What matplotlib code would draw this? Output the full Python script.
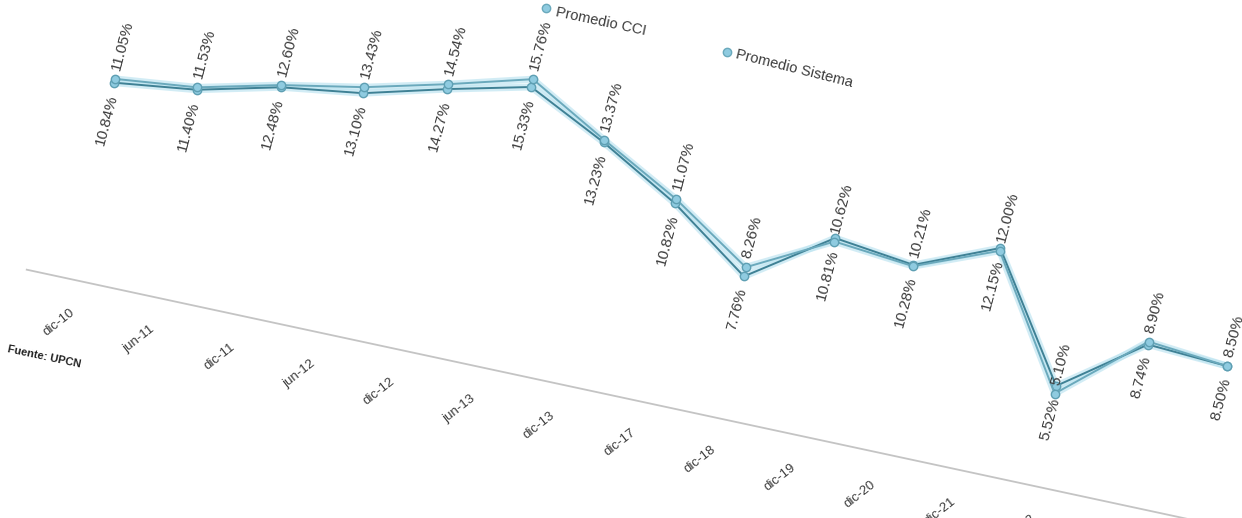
import matplotlib.pyplot as plt
from matplotlib.transforms import Affine2D

plt.rcParams['font.family'] = ['Liberation Sans', 'DejaVu Sans']

# Datos (las dos ultimas fechas quedan fuera de la foto)
periodos = ['dic-10', 'jun-11', 'dic-11', 'jun-12', 'dic-12', 'jun-13', 'dic-13',
            'dic-17', 'dic-18', 'dic-19', 'dic-20', 'dic-21', 'dic-22']
promedio_cci = [11.05, 11.53, 12.60, 13.43, 14.54, 15.76, 13.37, 11.07, 8.26,
                10.62, 10.21, 12.00, 5.10, 8.90, 8.50]
promedio_sistema = [10.84, 11.40, 12.48, 13.10, 14.27, 15.33, 13.23, 10.82, 7.76,
                    10.81, 10.28, 12.15, 5.52, 8.74, 8.50]
idx = list(range(len(promedio_cci)))

fig = plt.figure(figsize=(12.42, 5.18), dpi=100)
ax = fig.add_axes([0, 0, 1, 1])
ax.set_xlim(0, 1242)
ax.set_ylim(518, 0)
ax.axis('off')

# la foto esta tomada en perspectiva: el grafico se ve inclinado
skew = Affine2D.from_values(80.1, 17.2, 3.65, -18.2, 74.8, 280.0)
T = skew + ax.transData

def to_px(i, v):
    return skew.transform((i, v))

# eje x
ax.plot([-0.6, len(idx)], [0, 0], color='#c4c4c4', lw=1.3, transform=T)

col_txt = '#3c3c3c'
for i, lab in enumerate(periodos):
    x, y = to_px(i, -1.45)
    ax.text(x, y, lab, rotation=38, rotation_mode='anchor', ha='right', va='top',
            fontsize=9.5, color=col_txt)

# series con halo celeste
colores = [(promedio_sistema, '#3f8195'), (promedio_cci, '#6aa9bc')]
for vals, col in colores:
    ax.plot(idx, vals, color='#bfe5f1', lw=5, alpha=0.7, transform=T, solid_capstyle='round')
for vals, col in colores:
    ax.plot(idx, vals, color=col, lw=1.4, transform=T, marker='o', markersize=6,
            markerfacecolor='#8fcbe0', markeredgecolor='#5e9fb3', markeredgewidth=1)

# etiquetas de datos
for i, v in enumerate(promedio_cci):
    x, y = to_px(i, v)
    ax.text(x + 1, y - 9, f'{v:.2f}%', rotation=75, rotation_mode='anchor',
            ha='left', va='center', fontsize=11, color=col_txt)
for i, v in enumerate(promedio_sistema):
    x, y = to_px(i, v)
    ax.text(x - 1, y + 12, f'{v:.2f}%', rotation=75, rotation_mode='anchor',
            ha='right', va='center', fontsize=11, color=col_txt)

# leyenda
ax.plot([546], [8], 'o', color='#8fcbe0', markersize=6, markeredgecolor='#6aa9bc')
ax.text(556, 12, 'Promedio CCI', rotation=-12, rotation_mode='anchor',
        ha='left', va='center', fontsize=10.5, color=col_txt)
ax.plot([727], [52], 'o', color='#8fcbe0', markersize=6, markeredgecolor='#6aa9bc')
ax.text(736, 54, 'Promedio Sistema', rotation=-14, rotation_mode='anchor',
        ha='left', va='center', fontsize=10.5, color=col_txt)

ax.text(8, 349, 'Fuente: UPCN', rotation=-12, rotation_mode='anchor',
        ha='left', va='center', fontsize=8, fontweight='bold', color='#222222')

fig.savefig('out.png', dpi=100)
